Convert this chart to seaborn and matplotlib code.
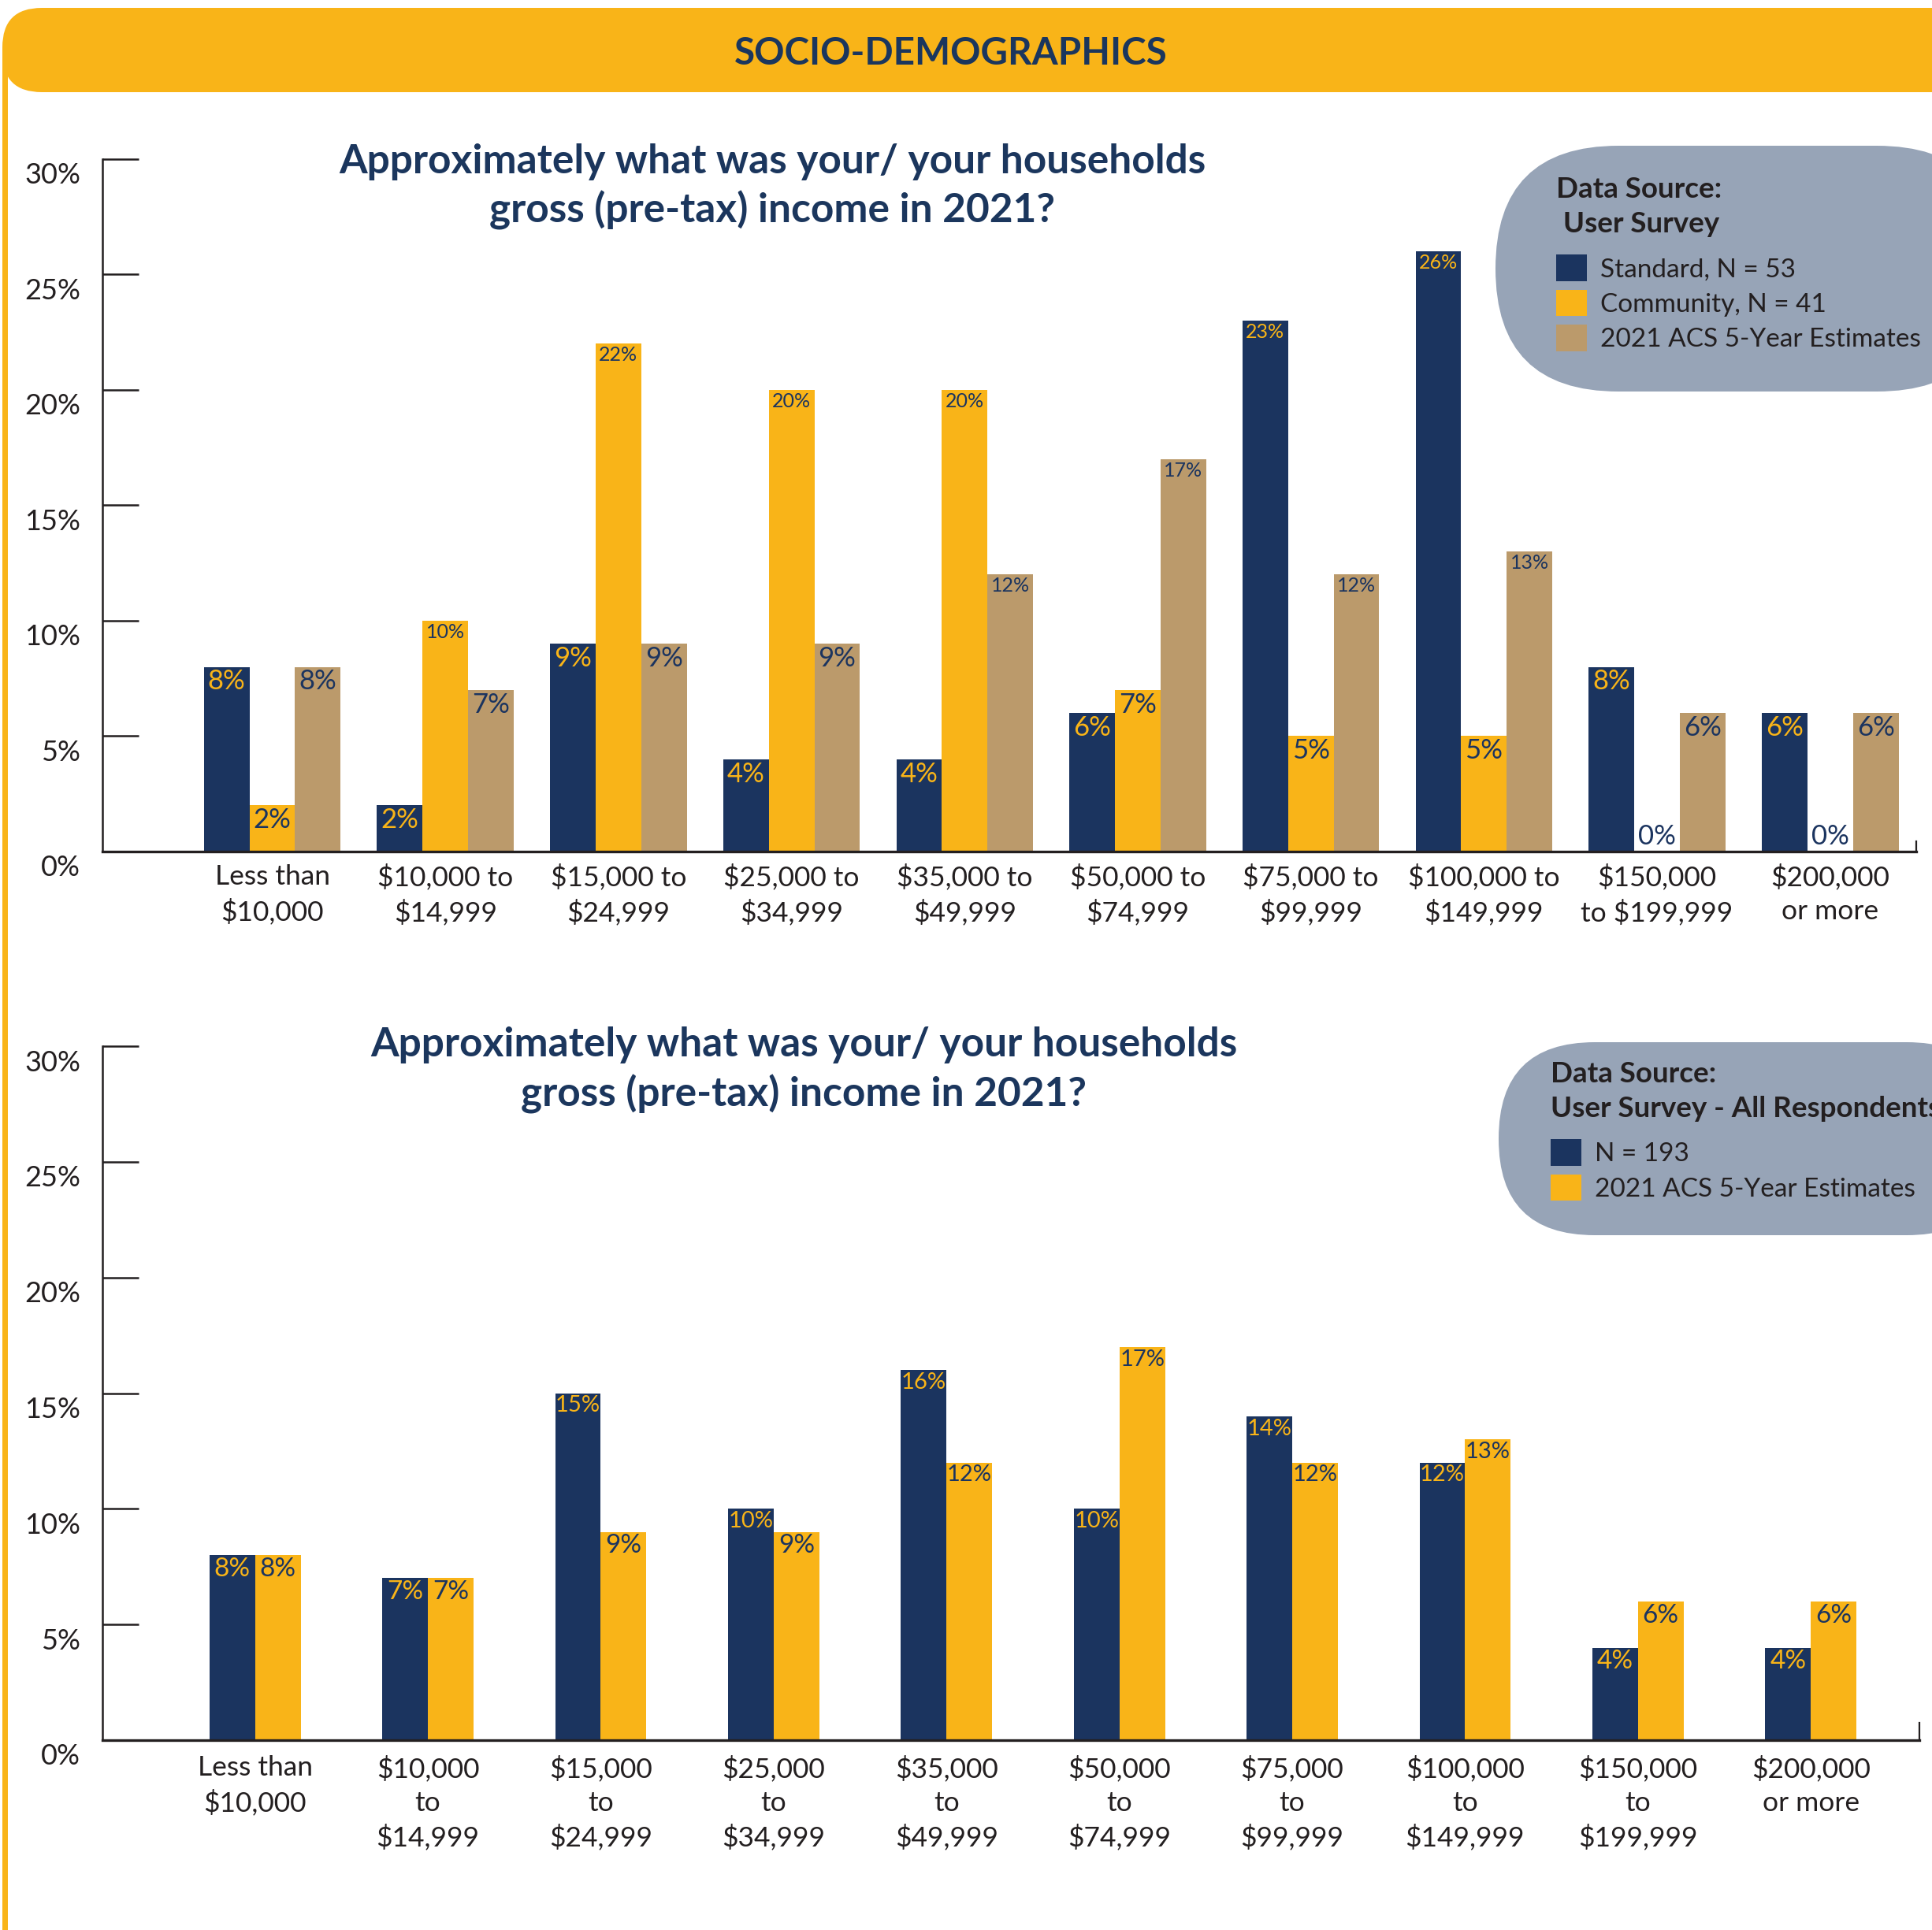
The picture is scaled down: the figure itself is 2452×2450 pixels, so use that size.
import numpy as np
import pandas as pd
import matplotlib
matplotlib.use("Agg")
import matplotlib.pyplot as plt
import seaborn as sns
from matplotlib.patches import FancyBboxPatch, Rectangle
from matplotlib.transforms import ScaledTranslation

# ---------------- data ----------------
income_keys = ["lt10k", "10k-15k", "15k-25k", "25k-35k", "35k-50k",
               "50k-75k", "75k-100k", "100k-150k", "150k-200k", "200k+"]

top_ticklabels = ["Less than\n$10,000", "$10,000 to\n$14,999", "$15,000 to\n$24,999",
                  "$25,000 to\n$34,999", "$35,000 to\n$49,999", "$50,000 to\n$74,999",
                  "$75,000 to\n$99,999", "$100,000 to\n$149,999", "$150,000\nto $199,999",
                  "$200,000\nor more"]
bottom_ticklabels = ["Less than\n$10,000", "$10,000\nto\n$14,999", "$15,000\nto\n$24,999",
                     "$25,000\nto\n$34,999", "$35,000\nto\n$49,999", "$50,000\nto\n$74,999",
                     "$75,000\nto\n$99,999", "$100,000\nto\n$149,999", "$150,000\nto\n$199,999",
                     "$200,000\nor more"]

top_series = ["Standard, N = 53", "Community, N = 41", "2021 ACS 5-Year Estimates"]
standard = [8, 2, 9, 4, 4, 6, 23, 26, 8, 6]
community = [2, 10, 22, 20, 20, 7, 5, 5, 0, 0]
acs_top = [8, 7, 9, 9, 12, 17, 12, 13, 6, 6]

bottom_series = ["N = 193", "2021 ACS 5-Year Estimates"]
all_respondents = [8, 7, 15, 10, 16, 10, 14, 12, 4, 4]
acs_bottom = [8, 7, 9, 9, 12, 17, 12, 13, 6, 6]

yticks = [0, 5, 10, 15, 20, 25, 30]
ytick_labels = ["0%", "5%", "10%", "15%", "20%", "25%", "30%"]

title_lines = ["Approximately what was your/ your households",
               "gross (pre-tax) income in 2021?"]
header_text = "SOCIO-DEMOGRAPHICS"

# ---------------- style ----------------
NAVY = "#1B345F"
YELLOW = "#F9B418"
TAN = "#BB9A6B"
PILL = "#97A4B7"
INK = "#231F20"
TITLE = "#1B365D"

plt.rcParams['font.family'] = ['Lato', 'DejaVu Sans']

W, H, DPI = 2452, 2450, 100
fig = plt.figure(figsize=(W / DPI, H / DPI), dpi=DPI)
fig.patch.set_facecolor("white")

# background layer in pixel coordinates
bg = fig.add_axes([0, 0, 1, 1], zorder=0)
bg.set_xlim(0, W)
bg.set_ylim(H, 0)
bg.axis("off")

bg.add_patch(Rectangle((3, 60), 7, H, color=YELLOW, lw=0))
bg.add_patch(FancyBboxPatch((3, 10), 2700, 107, boxstyle="round,pad=0,rounding_size=50",
                            fc=YELLOW, ec="none"))
bg.text(1207, 82, header_text, ha="center", va="baseline", fontsize=34.3,
        fontweight="bold", color=TITLE)

# legend pills
bg.add_patch(FancyBboxPatch((1898, 185), 640, 312, boxstyle="round,pad=0,rounding_size=156",
                            fc=PILL, ec="none"))
bg.add_patch(FancyBboxPatch((1902, 1323), 640, 245, boxstyle="round,pad=0,rounding_size=122",
                            fc=PILL, ec="none"))

# chart titles
for (cx, y1, y2) in [(980, 220, 283), (1020, 1341, 1405)]:
    bg.text(cx, y1, title_lines[0], ha="center", va="baseline", fontsize=37,
            fontweight="bold", color=TITLE)
    bg.text(cx, y2, title_lines[1], ha="center", va="baseline", fontsize=37,
            fontweight="bold", color=TITLE)


def px_axes(x0, x1, ytop, ybot):
    return fig.add_axes([x0 / W, 1 - ybot / H, (x1 - x0) / W, (ybot - ytop) / H], zorder=1)


def style_axes(ax, xlim, ticklabels, right_tick, xpad):
    ax.set_facecolor("none")
    ax.set_xlim(*xlim)
    ax.set_ylim(0, 30)
    ax.set_xlabel("")
    ax.set_ylabel("")
    ax.grid(False)
    ax.spines["top"].set_visible(False)
    ax.spines["left"].set_linewidth(1.8)
    ax.spines["left"].set_color(INK)
    ax.spines["bottom"].set_linewidth(2.4)
    ax.spines["bottom"].set_color(INK)
    ax.spines["right"].set_color(INK)
    ax.spines["right"].set_linewidth(1.6)
    ax.spines["right"].set_bounds(0, right_tick)
    ax.set_yticks(yticks)
    ax.set_yticklabels(ytick_labels)
    ax.tick_params(axis="y", direction="in", length=33, width=1.8, color=INK,
                   pad=20, labelsize=26, labelcolor=INK)
    ax.set_xticks(range(len(ticklabels)))
    ax.set_xticklabels(ticklabels)
    ax.tick_params(axis="x", length=0, pad=xpad, labelsize=25.5, labelcolor=INK)
    for lab in ax.get_xticklabels():
        lab.set_linespacing(1.4)
    off = ScaledTranslation(0, -18 / DPI, fig.dpi_scale_trans)
    for lab in ax.get_yticklabels():
        lab.set_transform(lab.get_transform() + off)


def label_bars(ax, series_values, text_colors, small_size, big_size):
    for cont, vals, col in zip(ax.containers, series_values, text_colors):
        for bar, v in zip(cont.patches, vals):
            x = bar.get_x() + bar.get_width() / 2
            h = bar.get_height()
            txt = f"{v:g}%"
            fs = big_size if v < 10 else small_size
            if h == 0:
                ax.annotate(txt, (x, 0), xytext=(0, 2), textcoords="offset points",
                            ha="center", va="bottom", color=NAVY, fontsize=fs)
            else:
                ax.annotate(txt, (x, h), xytext=(0, -2), textcoords="offset points",
                            ha="center", va="top", color=col, fontsize=fs)


def make_legend(ax, title, x, y):
    handles, labels = ax.get_legend_handles_labels()
    if ax.get_legend() is not None:
        ax.get_legend().remove()
    leg = ax.legend(handles, labels, title=title, loc="upper left",
                    bbox_to_anchor=(x / W, 1 - y / H), bbox_transform=fig.transFigure,
                    frameon=False, fontsize=24, labelcolor=INK,
                    title_fontproperties={"weight": "bold", "size": 26.5},
                    handlelength=1.17, handleheight=1.17, handletextpad=0.5,
                    labelspacing=0.32, alignment="left", borderpad=0, borderaxespad=0)
    leg.get_title().set_color(INK)
    leg.get_title().set_linespacing(1.4)
    leg._legend_box.sep = 16
    return leg


# ---------------- top chart ----------------
df_top = pd.DataFrame({
    "income": np.tile(income_keys, 3),
    "share": standard + community + acs_top,
    "source": np.repeat(top_series, len(income_keys)),
})
ax1 = px_axes(130, 2432, 202, 1081)
sns.barplot(data=df_top, x="income", y="share", hue="source", order=income_keys,
            hue_order=top_series, palette=[NAVY, YELLOW, TAN], width=0.79,
            saturation=1, errorbar=None, linewidth=0, ax=ax1)
style_axes(ax1, (-0.981, 9.497), top_ticklabels, 0.45, 11.5)
label_bars(ax1, [standard, community, acs_top], [YELLOW, NAVY, NAVY], 18, 25)
make_legend(ax1, "Data Source:\n User Survey", 1975, 224)

# ---------------- bottom chart ----------------
df_bot = pd.DataFrame({
    "income": np.tile(income_keys, 2),
    "share": all_respondents + acs_bottom,
    "source": np.repeat(bottom_series, len(income_keys)),
})
ax2 = px_axes(130, 2436, 1328, 2209)
sns.barplot(data=df_bot, x="income", y="share", hue="source", order=income_keys,
            hue_order=bottom_series, palette=[NAVY, YELLOW], width=0.528,
            saturation=1, errorbar=None, linewidth=0, ax=ax2)
style_axes(ax2, (-0.883, 9.628), bottom_ticklabels, 0.75, 14)
label_bars(ax2, [all_respondents, acs_bottom], [YELLOW, NAVY], 21, 24)
make_legend(ax2, "Data Source:\nUser Survey - All Respondents", 1968, 1347)

fig.savefig("out.png", dpi=DPI)
